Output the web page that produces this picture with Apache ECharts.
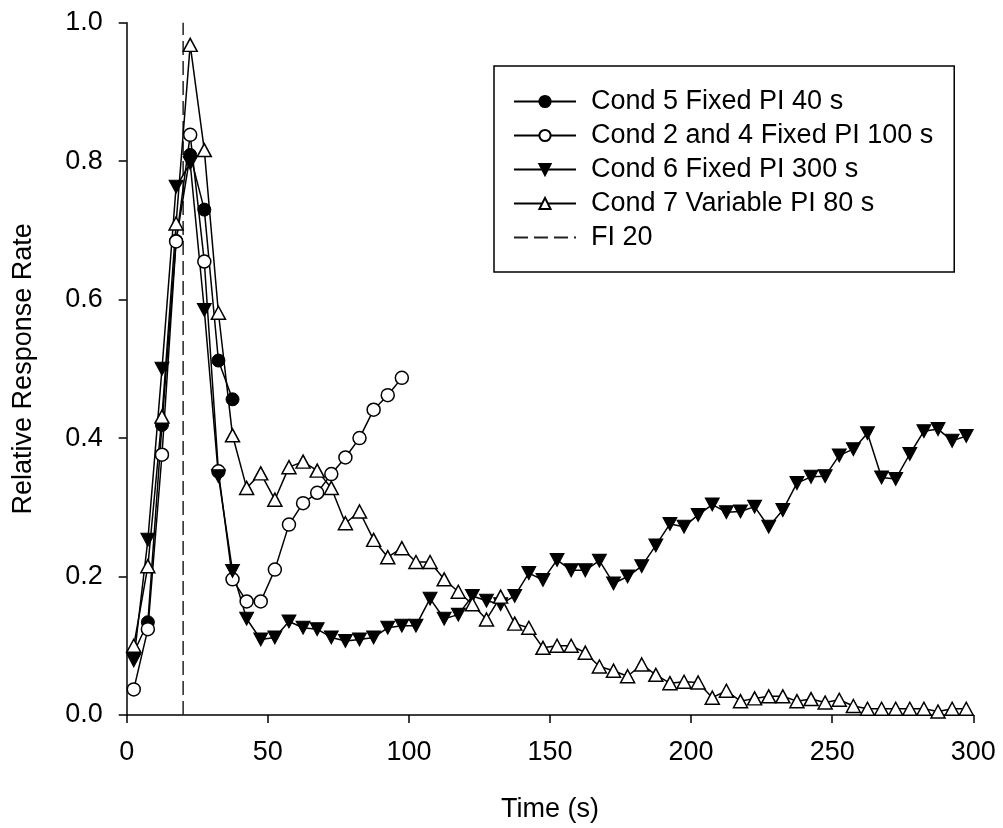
<!DOCTYPE html>
<html><head><meta charset="utf-8">
<script src="https://cdn.jsdelivr.net/npm/echarts@6/dist/echarts.min.js"></script>
<style>html,body{margin:0;padding:0;background:#fff}#c{width:1003px;height:828px}</style>
</head><body><div id="c"></div>
<script>
// Bin centres (s)
const times = [2.5,7.5,12.5,17.5,22.5,27.5,32.5,37.5,42.5,47.5,52.5,57.5,62.5,67.5,72.5,77.5,82.5,87.5,92.5,97.5,
  102.5,107.5,112.5,117.5,122.5,127.5,132.5,137.5,142.5,147.5,152.5,157.5,162.5,167.5,172.5,177.5,182.5,187.5,192.5,197.5,
  202.5,207.5,212.5,217.5,222.5,227.5,232.5,237.5,242.5,247.5,252.5,257.5,262.5,267.5,272.5,277.5,282.5,287.5,292.5,297.5];

const seriesNames = ['Cond 5 Fixed PI 40 s','Cond 2 and 4 Fixed PI 100 s','Cond 6 Fixed PI 300 s','Cond 7 Variable PI 80 s','FI 20'];

const cond5 = [0.090,0.134,0.419,0.685,0.809,0.730,0.512,0.456];

const cond2and4 = [0.037,0.124,0.376,0.684,0.838,0.655,0.352,0.196,0.164,0.164,
  0.210,0.275,0.306,0.321,0.348,0.372,0.400,0.441,0.462,0.487];

const cond6 = [0.079,0.253,0.500,0.763,0.797,0.585,0.345,0.208,0.139,0.109,
  0.112,0.135,0.126,0.124,0.112,0.107,0.109,0.112,0.126,0.129,
  0.129,0.168,0.139,0.145,0.172,0.165,0.160,0.172,0.205,0.195,
  0.224,0.209,0.209,0.223,0.190,0.200,0.215,0.245,0.276,0.272,
  0.289,0.304,0.293,0.294,0.301,0.272,0.296,0.335,0.344,0.345,
  0.375,0.384,0.407,0.343,0.341,0.377,0.410,0.413,0.396,0.403];

const cond7 = [0.100,0.215,0.431,0.710,0.968,0.816,0.581,0.404,0.328,0.349,
  0.311,0.358,0.366,0.353,0.328,0.277,0.294,0.253,0.228,0.241,
  0.221,0.221,0.196,0.178,0.160,0.138,0.171,0.132,0.126,0.097,
  0.100,0.100,0.090,0.070,0.064,0.056,0.073,0.058,0.046,0.048,
  0.047,0.025,0.035,0.020,0.024,0.027,0.027,0.020,0.023,0.018,
  0.022,0.013,0.009,0.009,0.009,0.009,0.009,0.005,0.009,0.009];

const fiX = [20, 20];
const fiY = [0, 1];

const xTickValues = [0,50,100,150,200,250,300];
const yTickValues = [0.0,0.2,0.4,0.6,0.8,1.0];

const pairs = (vals) => vals.map((v,i)=>[times[i], v]);
const FONT = 'Liberation Sans, Arial, sans-serif';
const downTri = 'path://M0,0 L10,0 L5,10 Z';

const chart = echarts.init(document.getElementById('c'), null, {renderer:'canvas'});
const lineBase = {type:'line', lineStyle:{color:'#000', width:1.5}, animation:false, z:2};

chart.setOption({
  backgroundColor:'#fff',
  animation:false,
  grid:{left:126.7, right:29.7, top:22.7, bottom:112.3, containLabel:false},
  xAxis:{type:'value', min:xTickValues[0], max:xTickValues[xTickValues.length-1], interval:50,
    axisLine:{lineStyle:{color:'#000', width:1.5}},
    axisTick:{length:8, lineStyle:{color:'#000', width:1.5}},
    axisLabel:{color:'#000', fontSize:27, fontFamily:FONT, margin:24},
    splitLine:{show:false},
    name:'Time (s)', nameLocation:'middle', nameGap:81,
    nameTextStyle:{color:'#000', fontSize:27, fontFamily:FONT}},
  yAxis:{type:'value', min:yTickValues[0], max:yTickValues[yTickValues.length-1], interval:0.2,
    axisLine:{show:true, lineStyle:{color:'#000', width:1.5}},
    axisTick:{show:true, length:8, lineStyle:{color:'#000', width:1.5}},
    axisLabel:{color:'#000', fontSize:27, fontFamily:FONT, margin:24, formatter:(v)=>v.toFixed(1)},
    splitLine:{show:false},
    name:'Relative Response Rate', nameLocation:'middle', nameGap:90,
    nameTextStyle:{color:'#000', fontSize:27, fontFamily:FONT}},
  legend:{orient:'vertical', left:494, top:66, padding:[22,21,21,19],
    borderColor:'#000', borderWidth:1.5, backgroundColor:'#fff',
    itemWidth:62, itemHeight:14, itemGap:7,
    textStyle:{color:'#000', fontSize:27, fontFamily:FONT, lineHeight:27, padding:[0,0,0,10]},
    data:[
      {name:seriesNames[0]},
      {name:seriesNames[1]},
      {name:seriesNames[2]},
      {name:seriesNames[3]},
      {name:seriesNames[4], itemStyle:{opacity:0}}
    ]},
  series:[
    Object.assign({}, lineBase, {name:seriesNames[0], data:pairs(cond5),
      symbol:'circle', symbolSize:13, itemStyle:{color:'#000', borderColor:'#000', borderWidth:1}}),
    Object.assign({}, lineBase, {name:seriesNames[1], data:pairs(cond2and4),
      symbol:'circle', symbolSize:13, itemStyle:{color:'#fff', borderColor:'#000', borderWidth:1.5}}),
    Object.assign({}, lineBase, {name:seriesNames[2], data:pairs(cond6),
      symbol:downTri, symbolSize:[14,13], symbolKeepAspect:false, itemStyle:{color:'#000', borderColor:'#000', borderWidth:1}}),
    Object.assign({}, lineBase, {name:seriesNames[3], data:pairs(cond7),
      symbol:'triangle', symbolSize:[14,13], itemStyle:{color:'#fff', borderColor:'#000', borderWidth:1.5}}),
    {type:'line', name:seriesNames[4], data:fiX.map((x,i)=>[x, fiY[i]]), symbol:'none', z:1,
      lineStyle:{color:'#222', width:1.5, type:[14,6]}, itemStyle:{color:'rgba(0,0,0,0)'}}
  ]
});
</script>
</body></html>
